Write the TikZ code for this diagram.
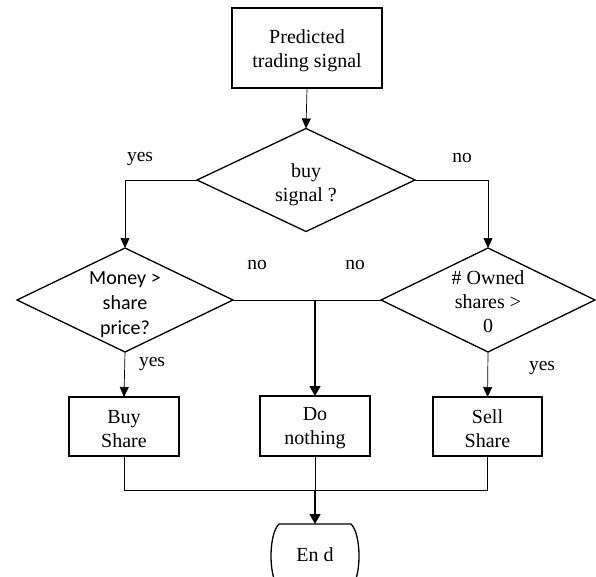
\documentclass[tikz,border=0pt]{standalone}
\usepackage{fontspec}
\setmainfont{Liberation Serif}
\newfontfamily\calfont{Carlito}
\usetikzlibrary{shapes.geometric,arrows.meta,calc}
\begin{document}
\begin{tikzpicture}[x=1pt,y=-1pt,
  box/.style={draw,line width=1.3pt,inner sep=0pt,outer sep=0pt},
  dia/.style={diamond,draw,line width=1.3pt,inner sep=0pt,outer sep=0pt},
  txt/.style={align=center,font=\fontsize{20}{24}\selectfont,inner sep=0pt},
  lbl/.style={font=\fontsize{19.5}{23}\selectfont,inner sep=0pt},
  conn/.style={line width=0.7pt},
  arr/.style={line width=0.7pt,-{Triangle[length=10pt,width=9pt]}},
  tarr/.style={line width=1.3pt,-{Triangle[length=10pt,width=11pt]}}]
\useasboundingbox (0,0) rectangle (596,577);
\clip (0,0) rectangle (596,577);
% nodes
\node[box,minimum width=150pt,minimum height=80pt,label={[txt,yshift=-2.5pt]center:{Predicted\\trading signal}}] (start) at (307,48) {};
\node[dia,minimum width=218pt,minimum height=103pt,label={[txt,yshift=-5pt]center:{buy\\signal ?}}] (buy) at (306,180) {};
\node[dia,minimum width=216pt,minimum height=104pt,label={[txt,yshift=-5pt,font=\calfont\fontsize{20}{25}\selectfont]center:{Money >\\share\\price?}}] (money) at (125,300) {};
\node[dia,minimum width=214pt,minimum height=104pt,label={[txt,yshift=-2pt]center:{\# Owned\\shares >\\0}}] (owned) at (488,300) {};
\node[box,minimum width=110pt,minimum height=59pt,label={[txt,yshift=-2.5pt]center:{Buy\\Share}}] (bshare) at (124,426.5) {};
\node[box,minimum width=110pt,minimum height=60pt,label={[txt,yshift=-2.5pt]center:{Do\\nothing}}] (nothing) at (315,426) {};
\node[box,minimum width=109pt,minimum height=59pt,label={[txt,yshift=-2.5pt]center:{Sell\\Share}}] (sshare) at (487.5,426.5) {};
\node[minimum width=88pt,minimum height=64pt,inner sep=0pt,outer sep=0pt] (end) at (315,556) {};
\node[txt] (endtxt) at (315,555) {En d};
\draw[line width=1.3pt] ($(end.north west)+(8,0)$) -- ($(end.north east)+(-8,0)$)
  .. controls ($(end.north east)+(2.67,10)$) and ($(end.south east)+(2.67,-10)$) .. ($(end.south east)+(-8,0)$)
  -- ($(end.south west)+(8,0)$)
  .. controls ($(end.south west)+(-2.67,-10)$) and ($(end.north west)+(-2.67,10)$) .. ($(end.north west)+(8,0)$) -- cycle;
% coordinates
\coordinate (jl) at (money.north |- buy.west);
\coordinate (jr) at (owned.north |- buy.east);
\coordinate (jm) at (nothing.north |- money.east);
\coordinate (bl) at (bshare.south |- 0,490);
\coordinate (br) at (sshare.south |- 0,490);
\coordinate (bm) at (nothing.south |- 0,490);
% connectors
\draw[arr] (start.south) -- (buy.north);
\draw[arr] (buy.west) -- (jl) -- (money.north);
\draw[arr] (buy.east) -- (jr) -- (owned.north);
\draw[conn] (money.east) -- (owned.west);
\draw[tarr] (jm) -- (nothing.north);
\draw[arr] (money.south) -- (bshare.north);
\draw[arr] (owned.south) -- (sshare.north);
\draw[conn] (bshare.south) -- (bl) -- (br) -- (sshare.south);
\draw[conn] (nothing.south) -- (bm);
\draw[tarr] (bm) -- (end.north);
% labels
\node[lbl] (yes1) at (140,159) {yes};
\node[lbl] (no1) at (462,158) {no};
\node[lbl] (no2) at (257,265) {no};
\node[lbl] (no3) at (355,265) {no};
\node[lbl] (yes2) at (152,364) {yes};
\node[lbl] (yes3) at (542,368) {yes};
\end{tikzpicture}
\end{document}
